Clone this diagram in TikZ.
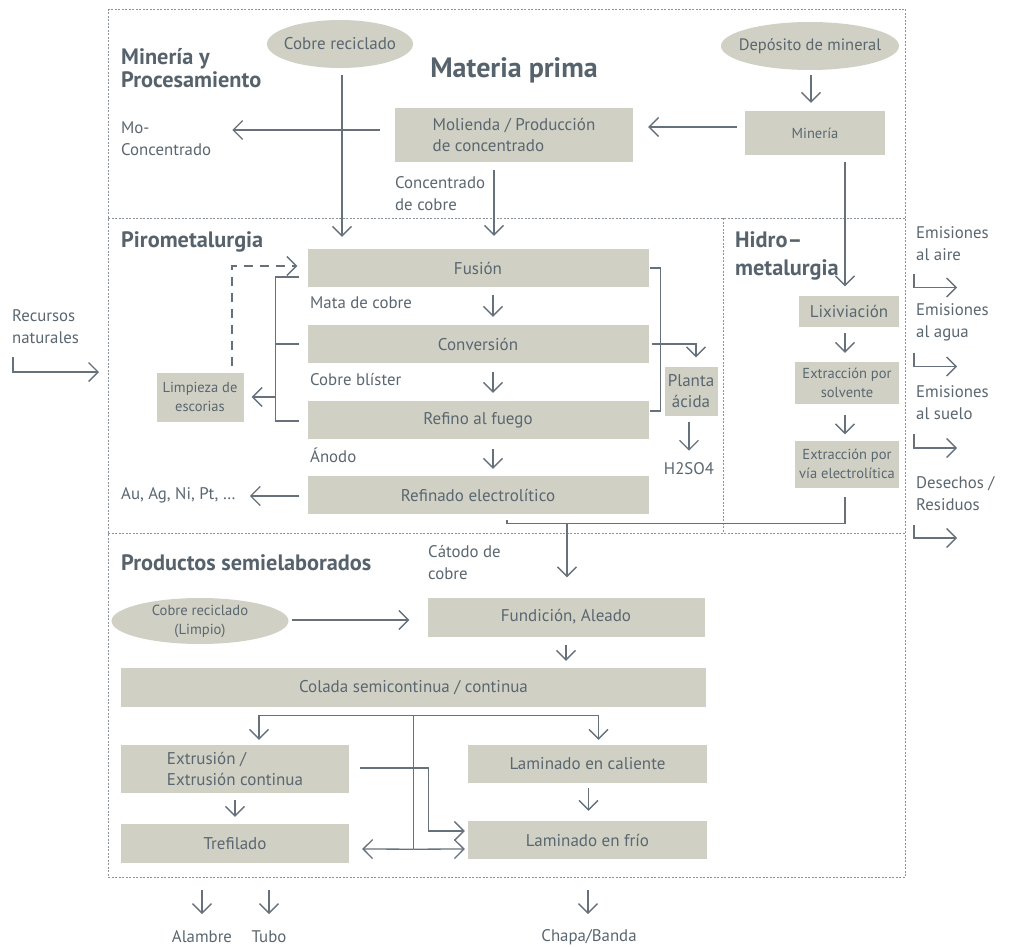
\documentclass[tikz,border=0pt]{standalone}
\usepackage{fontspec}
\setmainfont{PT Sans}
\usetikzlibrary{arrows.meta,shapes.geometric}
\definecolor{txt}{HTML}{5A6670}
\definecolor{ttlc}{HTML}{56626C}
\definecolor{ln}{HTML}{66717B}
\definecolor{boxf}{HTML}{D0D1C4}
\definecolor{framecol}{HTML}{8C949A}
\tikzset{
 lbl/.style={font=\fontsize{16.8}{22}\selectfont, text=txt, inner sep=0pt, align=left},
 ttl/.style={font=\bfseries\fontsize{22.3}{23}\selectfont, text=ttlc, inner sep=0pt, align=left},
 pbox/.style={fill=boxf, inner sep=0pt, text=txt, font=\fontsize{17}{21}\selectfont, align=center},
 sbox/.style={pbox, font=\fontsize{14.5}{19}\selectfont},
 oval/.style={ellipse, fill=boxf, inner sep=0pt},
 lnk/.style={draw=ln, line width=1.3pt},
 arr/.style={lnk, -{Straight Barb[length=9.5pt,width=19pt]}},
 dashframe/.style={draw=framecol, line width=0.9pt, dash pattern=on 2pt off 1.5pt}
}
\begin{document}
\begin{tikzpicture}[x=1pt,y=-1pt]
\useasboundingbox (0,0) rectangle (1010,947);
% frames
\draw[dashframe] (108,9) rectangle (905,877);
\draw[dashframe] (108,218) -- (905,218);
\draw[dashframe] (108,533) -- (905,533);
\draw[dashframe] (723,218) -- (723,533);
% titles
\node[ttl, anchor=west] (tmp) at (121,68.5) {Minería y\\Procesamiento};
\node[ttl, font=\bfseries\fontsize{28}{30}\selectfont] (tmat) at (514,70) {Materia prima};
\node[ttl, anchor=west] (tpir) at (121,242) {Pirometalurgia};
\node[ttl, anchor=west, font=\bfseries\fontsize{22.3}{28}\selectfont] (thid) at (735,256) {Hidro–\\metalurgia};
\node[ttl, anchor=west] (tpro) at (121,563) {Productos semielaborados};
% ellipses
\node[oval, minimum width=146pt, minimum height=48pt, label={[lbl, font=\fontsize{17}{22}\selectfont]center:Cobre reciclado}] (cr1) at (340,44) {};
\node[oval, minimum width=178pt, minimum height=48pt, label={[lbl, font=\fontsize{16.5}{22}\selectfont]center:Depósito de mineral}] (dep) at (810,46) {};
\node[oval, minimum width=177pt, minimum height=46pt, label={[lbl, align=center, font=\fontsize{14.6}{19}\selectfont]center:Cobre reciclado\\(Limpio)}] (cr2) at (200,621) {};
% boxes
\node[pbox, minimum width=238pt, minimum height=54pt, align=left] (mol) at (514,135) {Molienda / Producción\\de concentrado};
\node[sbox, minimum width=140pt, minimum height=44pt] (min) at (815,133) {Minería};
\node[pbox, minimum width=341pt, minimum height=38pt] (fus) at (478,268) {Fusión};
\node[pbox, minimum width=341pt, minimum height=38pt] (con) at (478,344) {Conversión};
\node[pbox, minimum width=341pt, minimum height=38pt] (ref) at (478,420) {Refino al fuego};
\node[pbox, minimum width=341pt, minimum height=38pt] (rel) at (478,495) {Refinado electrolítico};
\node[sbox, minimum width=87pt, minimum height=49pt] (lim) at (200,397) {Limpieza de\\escorias};
\node[pbox, minimum width=53pt, minimum height=49pt] (pla) at (691,391) {Planta\\ácida};
\node[pbox, minimum width=100pt, minimum height=31pt] (lix) at (849,311) {Lixiviación};
\node[sbox, minimum width=104pt, minimum height=42pt] (exs) at (847,383) {Extracción por\\solvente};
\node[sbox, minimum width=104pt, minimum height=47pt] (exv) at (847,464) {Extracción por\\vía electrolítica};
\node[pbox, minimum width=277pt, minimum height=39pt] (fun) at (566,617) {Fundición, Aleado};
\node[pbox, minimum width=585pt, minimum height=39pt] (col) at (413.5,687.5) {Colada semicontinua / continua};
\node[pbox, minimum width=228pt, minimum height=48pt, align=left] (ext) at (235,769) {Extrusión /\\Extrusión continua};
\node[pbox, minimum width=228pt, minimum height=39pt] (tre) at (235,843.5) {Trefilado};
\node[pbox, minimum width=239pt, minimum height=38pt] (lca) at (587.5,764) {Laminado en caliente};
\node[pbox, minimum width=239pt, minimum height=38pt] (lfr) at (587.5,840) {Laminado en frío};
% labels
\node[lbl, anchor=west] (moc) at (121,139) {Mo-\\Concentrado};
\node[lbl, anchor=west] (cdc) at (395,193.5) {Concentrado\\de cobre};
\node[lbl, anchor=west] (mata) at (310,303) {Mata de cobre};
\node[lbl, anchor=west] (blis) at (310,380) {Cobre blíster};
\node[lbl, anchor=west] (anod) at (310,455) {Ánodo};
\node[lbl, anchor=west] (au) at (121,495) {Au, Ag, Ni, Pt, …};
\node[lbl] (h2) at (689,469) {H2SO4};
\node[lbl, anchor=west] (cat) at (428,562.5) {Cátodo de\\cobre};
\node[lbl, anchor=west] (rn) at (12,327) {Recursos\\naturales};
\node[lbl, anchor=west] (e1) at (916,243.5) {Emisiones\\al aire};
\node[lbl, anchor=west] (e2) at (916,322.5) {Emisiones\\al agua};
\node[lbl, anchor=west] (e3) at (916,403) {Emisiones\\al suelo};
\node[lbl, anchor=west] (e4) at (916,494) {Desechos /\\Residuos};
\node[lbl] (alam) at (202,937) {Alambre};
\node[lbl] (tubo) at (269,937) {Tubo};
\node[lbl] (chap) at (589,937) {Chapa/Banda};
% connectors: top
\draw[arr] ([xshift=2pt,yshift=-7pt]cr1.south) -- ([xshift=2pt,yshift=12pt]cr1.south |- fus.north);
\draw[arr] ([xshift=-15pt,yshift=5pt]mol.west) -- ([xshift=21pt,yshift=9pt]moc.east);
\draw[arr] ([xshift=-8pt,yshift=6pt]min.west) -- ([xshift=15pt,yshift=8pt]mol.east);
\draw[arr] ([xshift=1pt,yshift=-5pt]dep.south) -- ([xshift=-4pt,yshift=8pt]min.north);
\draw[arr] ([xshift=-20pt,yshift=-8pt]mol.south) -- ([xshift=16pt,yshift=13pt]fus.north);
\draw[arr] ([xshift=30pt,yshift=-7pt]min.south) -- ([xshift=-4pt,yshift=9pt]lix.north);
% pyro chain
\draw[arr] ([xshift=15pt,yshift=-8pt]fus.south) -- ([xshift=15pt,yshift=8pt]con.north);
\draw[arr] ([xshift=15pt,yshift=-9pt]con.south) -- ([xshift=15pt,yshift=8pt]ref.north);
\draw[arr] ([xshift=15pt,yshift=-10pt]ref.south) -- ([xshift=15pt,yshift=7pt]rel.north);
% left bracket
\draw[lnk] ([xshift=-8pt,yshift=-9pt]fus.west) -- ++(-24,0) |- ([xshift=-8pt,yshift=-1pt]ref.west);
\draw[lnk] ([xshift=-8pt]con.west) -- ++(-24,0);
\draw[arr] ([xshift=32pt]lim.east) -- ([xshift=8pt]lim.east);
\draw[arr, dash pattern=on 9pt off 7pt] ([xshift=32pt,yshift=6pt]lim.north) |- ([xshift=-10pt,yshift=2pt]fus.west);
% right bracket
\draw[lnk] ([xshift=1pt]fus.east) -- ++(11,0) |- ([xshift=1pt,yshift=9pt]ref.east);
\draw[arr] ([xshift=3pt]con.east) -| ([xshift=5pt,yshift=9pt]pla.north);
\draw[arr] ([xshift=-2pt,yshift=-6pt]pla.south) -- ([xshift=-2pt,yshift=-35pt]pla.south);
\draw[arr] ([xshift=-8pt,yshift=-1pt]rel.west) -- ([xshift=14pt,yshift=-1pt]au.east);
% hydro
\draw[arr] ([xshift=-4pt,yshift=-6pt]lix.south) -- ([xshift=-2pt,yshift=9pt]exs.north);
\draw[arr] ([xshift=-2pt,yshift=-11pt]exs.south) -- ([xshift=-2pt,yshift=6pt]exv.north);
% collector
\draw[lnk] ([xshift=29pt,yshift=-6pt]rel.south) |- ([xshift=-2pt,yshift=-36pt]exv.south) -- ([xshift=-2pt,yshift=-9pt]exv.south);
\draw[arr] ([xshift=1pt,yshift=74pt]fun.north) -- ([xshift=1pt,yshift=20pt]fun.north);
% semis
\draw[arr] ([xshift=3pt,yshift=1pt]cr2.east) -- ([xshift=-18pt,yshift=-3pt]fun.west);
\draw[arr] ([yshift=-8pt]fun.south) -- ([yshift=7pt]fun.south |- col.north);
\coordinate (cj) at ([yshift=-8pt]col.south);
\coordinate (cb) at ([yshift=-134pt]cj);
\draw[arr] (cj) -| ([xshift=24pt,yshift=5pt]ext.north);
\draw[arr] (cj) -| ([xshift=11pt,yshift=5pt]lca.north);
\draw[lnk] (cj) -- (cb);
\draw[arr] (cb) -- ([xshift=13pt,yshift=-5.5pt]tre.east);
\draw[arr] (cb) -- ([xshift=-3pt,yshift=-9pt]lfr.west);
\draw[arr] ([xshift=11pt,yshift=1pt]ext.east) -| ([xshift=-39pt,yshift=9pt]lfr.west) -- ([xshift=-3pt,yshift=9pt]lfr.west);
\draw[arr] ([yshift=-7pt]ext.south) -- ([yshift=7pt]tre.north);
\draw[arr] ([xshift=1pt,yshift=-5pt]lca.south) -- ([xshift=1pt,yshift=10pt]lfr.north);
% outputs
\draw[arr] ([yshift=47pt]alam.center) -- ([yshift=23pt]alam.center);
\draw[arr] ([yshift=47pt]tubo.center) -- ([yshift=23pt]tubo.center);
\draw[arr] ([xshift=-1pt,yshift=47pt]chap.center) -- ([xshift=-1pt,yshift=23pt]chap.center);
% side L arrows
\draw[arr] ([xshift=1pt,yshift=-30pt]rn.west) |- ([xshift=87pt,yshift=-45pt]rn.west);
\draw[arr] ([xshift=-2pt,yshift=-30pt]e1.west) |- ([xshift=41pt,yshift=-44pt]e1.west);
\draw[arr] ([xshift=-2pt,yshift=-30pt]e2.west) |- ([xshift=41pt,yshift=-44pt]e2.west);
\draw[arr] ([xshift=-2pt,yshift=-31pt]e3.west) |- ([xshift=41pt,yshift=-45pt]e3.west);
\draw[arr] ([xshift=-2pt,yshift=-31pt]e4.west) |- ([xshift=41pt,yshift=-44pt]e4.west);
\end{tikzpicture}
\end{document}
